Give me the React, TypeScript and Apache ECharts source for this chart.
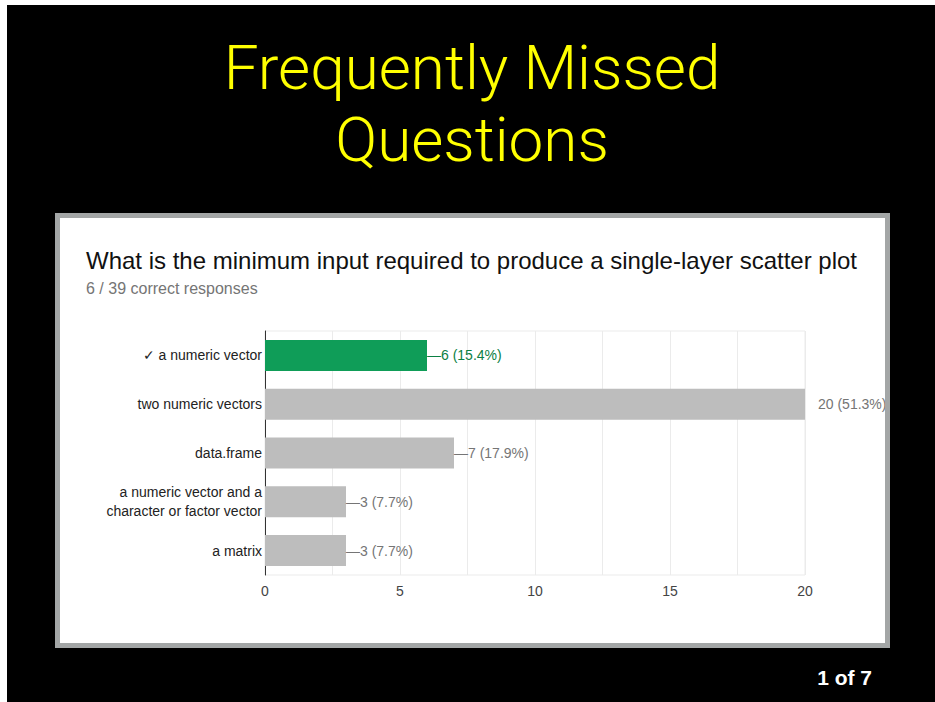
import React, { useEffect, useRef } from "react";
import * as echarts from "echarts";

const categories = [
  "✓ a numeric vector",
  "two numeric vectors",
  "data.frame",
  "a numeric vector and a\ncharacter or factor vector",
  "a matrix",
];
const counts = [6, 20, 7, 3, 3];
const percents = ["15.4%", "51.3%", "17.9%", "7.7%", "7.7%"];
const correctIndex = 0;
const xTicks = [0, 5, 10, 15, 20];

const slideTitle = "Frequently Missed\nQuestions";
const question = "What is the minimum input required to produce a single-layer scatter plot";
const subtitle = "6 / 39 correct responses";
const pageLabel = "1 of 7";

const FONT = "'Liberation Sans', Arial, Helvetica, sans-serif";

export default function App() {
  const ref = useRef<HTMLDivElement>(null);
  useEffect(() => {
    if (!ref.current) return;
    const chart = echarts.init(ref.current, null, { renderer: "svg" });
    const green = "#0f9d58";
    const data = counts.map((v, i) => {
      const isCorrect = i === correctIndex;
      const isMax = v === Math.max(...counts);
      return {
        value: v,
        itemStyle: { color: isCorrect ? green : "#bdbdbd" },
        label: {
          show: true,
          position: "right",
          distance: isMax ? 13 : 0,
          color: isCorrect ? "#0b8043" : "#757575",
          formatter: (isMax ? "" : "—") + v + " (" + percents[i] + ")",
        },
      };
    });
    chart.setOption({
      animation: false,
      backgroundColor: "#ffffff",
      textStyle: { fontFamily: FONT },
      grid: {
        left: 265,
        right: 130,
        top: 331,
        bottom: 127,
        show: true,
        borderColor: "#ebebeb",
        borderWidth: 1,
        backgroundColor: "transparent",
      },
      xAxis: {
        type: "value",
        min: 0,
        max: 20,
        interval: 5,
        axisLine: { show: false },
        axisTick: { show: false },
        axisLabel: {
          color: "#444",
          fontSize: 14,
          fontFamily: FONT,
          margin: 9,
          formatter: (v: number) => (xTicks.includes(v) ? String(v) : ""),
        },
        splitLine: { show: true, lineStyle: { color: "#ebebeb", width: 1 } },
        minorTick: { show: false, splitNumber: 2 },
        minorSplitLine: { show: true, lineStyle: { color: "#ebebeb", width: 1 } },
      },
      yAxis: {
        type: "category",
        data: categories,
        inverse: true,
        axisLine: { show: true, lineStyle: { color: "#333", width: 1 } },
        axisTick: { show: false },
        axisLabel: {
          color: "#222",
          fontSize: 14,
          fontFamily: FONT,
          margin: 3,
          lineHeight: 19,
          align: "right",
        },
        splitLine: { show: false },
      },
      series: [
        {
          type: "bar",
          data,
          barWidth: 31,
          label: { fontSize: 14, fontFamily: FONT },
        },
      ],
      graphic: [
        { type: "rect", z: -10, shape: { x: 7, y: 5, width: 928, height: 697 }, style: { fill: "#000" } },
        { type: "rect", z: -9, shape: { x: 57.5, y: 215.5, width: 830, height: 430 }, style: { fill: "#fff", stroke: "#a3a6a6", lineWidth: 5 } },
        { type: "rect", z: 100, shape: { x: 57.5, y: 215.5, width: 830, height: 430 }, style: { fill: "none", stroke: "#a3a6a6", lineWidth: 5 } },
        { type: "rect", z: 100, shape: { x: 890, y: 210, width: 45, height: 440 }, style: { fill: "#000" } },
        {
          type: "text",
          z: 10,
          x: 472,
          y: 103,
          style: {
            text: slideTitle,
            fill: "#ffff00",
            font: "300 62px Roboto, 'Liberation Sans', Arial, sans-serif",
            textAlign: "center",
            textVerticalAlign: "middle",
            lineHeight: 72,
          },
        },
        {
          type: "text",
          z: 10,
          x: 86,
          y: 260,
          style: {
            text: question,
            fill: "#111",
            font: "24px " + FONT,
            textVerticalAlign: "middle",
          },
        },
        {
          type: "text",
          z: 10,
          x: 86,
          y: 288,
          style: {
            text: subtitle,
            fill: "#757575",
            font: "16px " + FONT,
            textVerticalAlign: "middle",
          },
        },
        {
          type: "text",
          z: 10,
          x: 872,
          y: 677,
          style: {
            text: pageLabel,
            fill: "#ffffff",
            font: "bold 21px " + FONT,
            textAlign: "right",
            textVerticalAlign: "middle",
          },
        },
      ],
    });
    return () => chart.dispose();
  }, []);
  return (
    <div
      ref={ref}
      style={{ position: "fixed", left: 0, top: 0, width: 935, height: 702 }}
    />
  );
}
